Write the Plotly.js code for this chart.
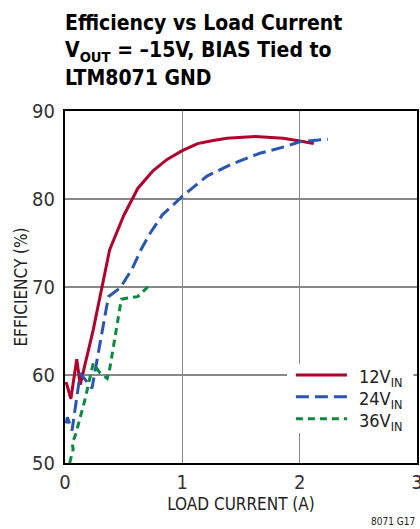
<!DOCTYPE html>
<html>
<head>
<meta charset="utf-8">
<script src="https://cdn.plot.ly/plotly-3.0.1.min.js"></script>
<style>
  html, body { margin: 0; padding: 0; background: #fff; }
  #chart { width: 420px; height: 529px; }
</style>
</head>
<body>
<div id="chart"></div>
<script>
// Load current (A) and efficiency (%)
const x12 = [0.01, 0.05, 0.10, 0.13, 0.24, 0.33, 0.38, 0.50, 0.62, 0.75, 0.87, 1.00, 1.13, 1.24, 1.38, 1.62, 1.86, 2.00, 2.12];
const y12 = [59.2, 57.3, 61.8, 58.9, 65.1, 70.8, 74.2, 78.1, 81.2, 83.2, 84.5, 85.5, 86.3, 86.6, 86.9, 87.1, 86.9, 86.6, 86.3];

const x24 = [0.01, 0.02, 0.06, 0.13, 0.23, 0.37, 0.47, 0.57, 0.65, 0.72, 0.83, 1.00, 1.21, 1.41, 1.66, 1.89, 2.00, 2.24];
const y24 = [54.5, 55.2, 53.7, 60.2, 58.5, 68.9, 69.9, 72.0, 74.3, 76.0, 78.2, 80.3, 82.6, 83.9, 85.2, 86.0, 86.5, 86.8];

const x36 = [0.04, 0.07, 0.06, 0.09, 0.17, 0.24, 0.30, 0.36, 0.38, 0.48, 0.51, 0.62, 0.72];
const y36 = [50.0, 51.6, 52.2, 53.2, 57.2, 61.3, 60.2, 59.6, 60.6, 68.6, 68.7, 68.9, 70.2];

const names = ['12V<sub>IN</sub>', '24V<sub>IN</sub>', '36V<sub>IN</sub>'];
const colors = ['#B2002D', '#2A55B0', '#0A8A3E'];
const dashes = ['solid', '13px,6px', '7px,5px'];
const xTicks = [0, 1, 2, 3];
const yTicks = [50, 60, 70, 80, 90];

const FONT = '"DejaVu Sans Condensed", "Liberation Sans Narrow", "DejaVu Sans", sans-serif';

const series = [[x12, y12], [x24, y24], [x36, y36]];
const traces = series.map((s, i) => ({
  x: s[0], y: s[1], name: names[i], mode: 'lines', type: 'scatter',
  line: { color: colors[i], width: 3, dash: dashes[i] }, showlegend: false
}));

// Manual legend (paper coordinates) to match the reference's long samples and tight spacing
const legendY = [0.250, 0.188, 0.126];
const shapes = [
  { type: 'rect', xref: 'paper', yref: 'paper', x0: 0.631, x1: 0.99, y0: 0.085, y1: 0.282,
    fillcolor: '#fff', line: { width: 0 }, layer: 'above' }
];
const annotations = [];
names.forEach((n, i) => {
  shapes.push({ type: 'line', xref: 'paper', yref: 'paper', x0: 0.656, x1: 0.801,
    y0: legendY[i], y1: legendY[i], layer: 'above',
    line: { color: colors[i], width: 3, dash: dashes[i] } });
  annotations.push({ text: n, xref: 'paper', yref: 'paper', x: 0.83, y: legendY[i],
    xanchor: 'left', yanchor: 'middle', yshift: -3, showarrow: false,
    font: { size: 18, color: '#222' } });
});
annotations.push({ text: '8071 G17', xref: 'paper', yref: 'paper', x: 1, y: 0,
  xanchor: 'right', yanchor: 'bottom', yshift: -66, showarrow: false,
  font: { size: 10, color: '#222' } });

const layout = {
  width: 420, height: 529,
  margin: { l: 65, r: 3, t: 111, b: 66 },
  paper_bgcolor: '#fff', plot_bgcolor: '#fff',
  font: { family: FONT, color: '#222', size: 20 },
  title: {
    text: '<b>Efficiency vs Load Current<br>V<sub>OUT</sub> = –15V, BIAS Tied to<br>LTM8071 GND</b>',
    font: { family: FONT, size: 21, color: '#000' },
    x: 65 / 420, xanchor: 'left', xref: 'container',
    y: 1 - 30 / 529, yanchor: 'top', yref: 'container'
  },
  xaxis: {
    range: [0, 3], tickvals: xTicks, ticktext: xTicks.map(String),
    showgrid: true, gridcolor: '#888', gridwidth: 1.5,
    zeroline: false, showline: true, linecolor: '#000', linewidth: 2, mirror: true,
    ticks: '', tickfont: { size: 20, color: '#333' }, ticklabeloverflow: 'allow',
    title: { text: 'LOAD CURRENT (A)', font: { size: 17, color: '#222' }, standoff: 2 },
    fixedrange: true
  },
  yaxis: {
    range: [50, 90], tickvals: yTicks, ticktext: yTicks.map(String),
    showgrid: true, gridcolor: '#888', gridwidth: 1.5,
    zeroline: false, showline: true, linecolor: '#000', linewidth: 2, mirror: true,
    ticks: '', tickfont: { size: 20, color: '#333' }, ticklabelstandoff: 4,
    title: { text: 'EFFICIENCY (%)', font: { size: 17, color: '#222' }, standoff: 0 },
    fixedrange: true
  },
  showlegend: false,
  shapes: shapes,
  annotations: annotations
};

Plotly.newPlot('chart', traces, layout, { displayModeBar: false, staticPlot: true });
</script>
</body>
</html>
